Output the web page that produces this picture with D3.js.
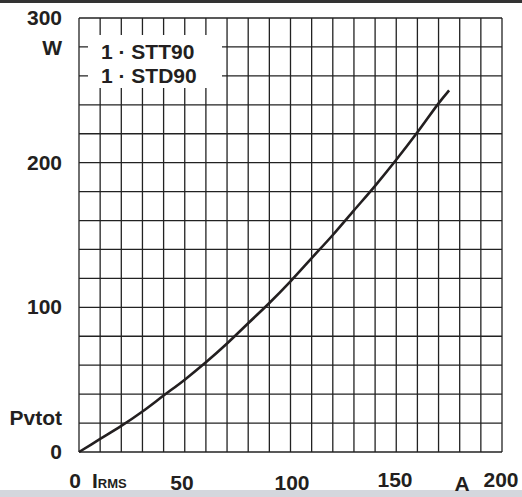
<!DOCTYPE html>
<html>
<head>
<meta charset="utf-8">
<script src="https://cdn.jsdelivr.net/npm/d3@7"></script>
<style>
  body { margin:0; background:#fff; }
  text { font-family:"Liberation Sans", Arial, sans-serif; font-weight:bold; fill:#231f20; }
</style>
</head>
<body>
<script>
// curve: current (A) -> power (W)
var current = [0, 10, 20, 30, 40, 50, 60, 70, 80, 90, 100, 110, 120, 130, 140, 150, 160, 170, 175];
var power   = [0, 9, 18, 28, 39, 50, 62, 75, 89, 103, 118, 134, 150, 167, 184, 202, 221, 241, 250];

var xTickLabels = [0, 50, 100, 150, 200];
var yTickLabels = [0, 100, 200, 300];
var legendLines = ["1 \u00b7 STT90", "1 \u00b7 STD90"];

var W = 522, H = 497;

var svg = d3.select("body").append("svg")
            .attr("width", W)
            .attr("height", H)

var x = d3.scaleLinear().domain([0, 200]).range([79, 502]);
var y = d3.scaleLinear().domain([0, 300]).range([452, 18]);

// top dark rule and bottom grey band
svg.append("rect").attr("x",0).attr("y",0).attr("width",W).attr("height",3).attr("fill","#333")
svg.append("rect").attr("x",0).attr("y",490).attr("width",W).attr("height",7).attr("fill","#d4d7dd")

/* ---------- GRID ---------- */
var grid = svg.append("g").attr("stroke","#222").attr("stroke-width",1.3)

grid.selectAll(".vl")
    .data(d3.range(0, 201, 10))
    .enter().append("line")
    .attr("x1", function(d) { return x(d); })
    .attr("x2", function(d) { return x(d); })
    .attr("y1", y(0))
    .attr("y2", y(300))

grid.selectAll(".hl")
    .data(d3.range(0, 301, 20))
    .enter().append("line")
    .attr("x1", x(0))
    .attr("x2", x(200))
    .attr("y1", function(d) { return y(d); })
    .attr("y2", function(d) { return y(d); })

/* ---------- LEGEND BOX ---------- */
svg.append("rect")
   .attr("x", 88).attr("y", 35)
   .attr("width", 134).attr("height", 53)
   .attr("fill", "#fff")

svg.selectAll(".leg")
   .data(legendLines)
   .enter().append("text")
   .attr("x", 101)
   .attr("y", function(d, i) { return 59 + i*24; })
   .attr("font-size", 21)
   .text(function(d) { return d; })

/* ---------- CURVE ---------- */
var pts = current.map(function(c, i) { return [c, power[i]]; });

svg.append("path")
   .datum(pts)
   .attr("fill", "none")
   .attr("stroke", "#231f20")
   .attr("stroke-width", 2.6)
   .attr("d", d3.line()
                .x(function(d) { return x(d[0]); })
                .y(function(d) { return y(d[1]); })
                .curve(d3.curveCatmullRom))

/* ---------- AXIS LABELS ---------- */
svg.selectAll(".yl")
   .data(yTickLabels)
   .enter().append("text")
   .attr("x", 62)
   .attr("y", function(d) { return y(d) + 7; })
   .attr("text-anchor", "end")
   .attr("font-size", 21)
   .text(function(d) { return d; })

var xLabelPos = {0: 75, 50: 182, 100: 292, 150: 395, 200: 501};
var xLabelBase = {0: 488, 50: 490, 100: 490, 150: 487, 200: 487};
svg.selectAll(".xl")
   .data(xTickLabels)
   .enter().append("text")
   .attr("x", function(d) { return xLabelPos[d]; })
   .attr("y", function(d) { return xLabelBase[d]; })
   .attr("text-anchor", "middle")
   .attr("font-size", 21)
   .text(function(d) { return d; })

svg.append("text").attr("x", 62).attr("y", 55).attr("text-anchor","end").attr("font-size",21).text("W")
svg.append("text").attr("x", 62).attr("y", 425).attr("text-anchor","end").attr("font-size",21).text("Pvtot")
svg.append("text").attr("x", 462).attr("y", 491).attr("text-anchor","middle").attr("font-size",21).text("A")

var irms = svg.append("text").attr("x", 92).attr("y", 488).attr("font-size", 21)
irms.append("tspan").text("I")
irms.append("tspan").attr("font-size", 13).text("RMS")
</script>
</body>
</html>
